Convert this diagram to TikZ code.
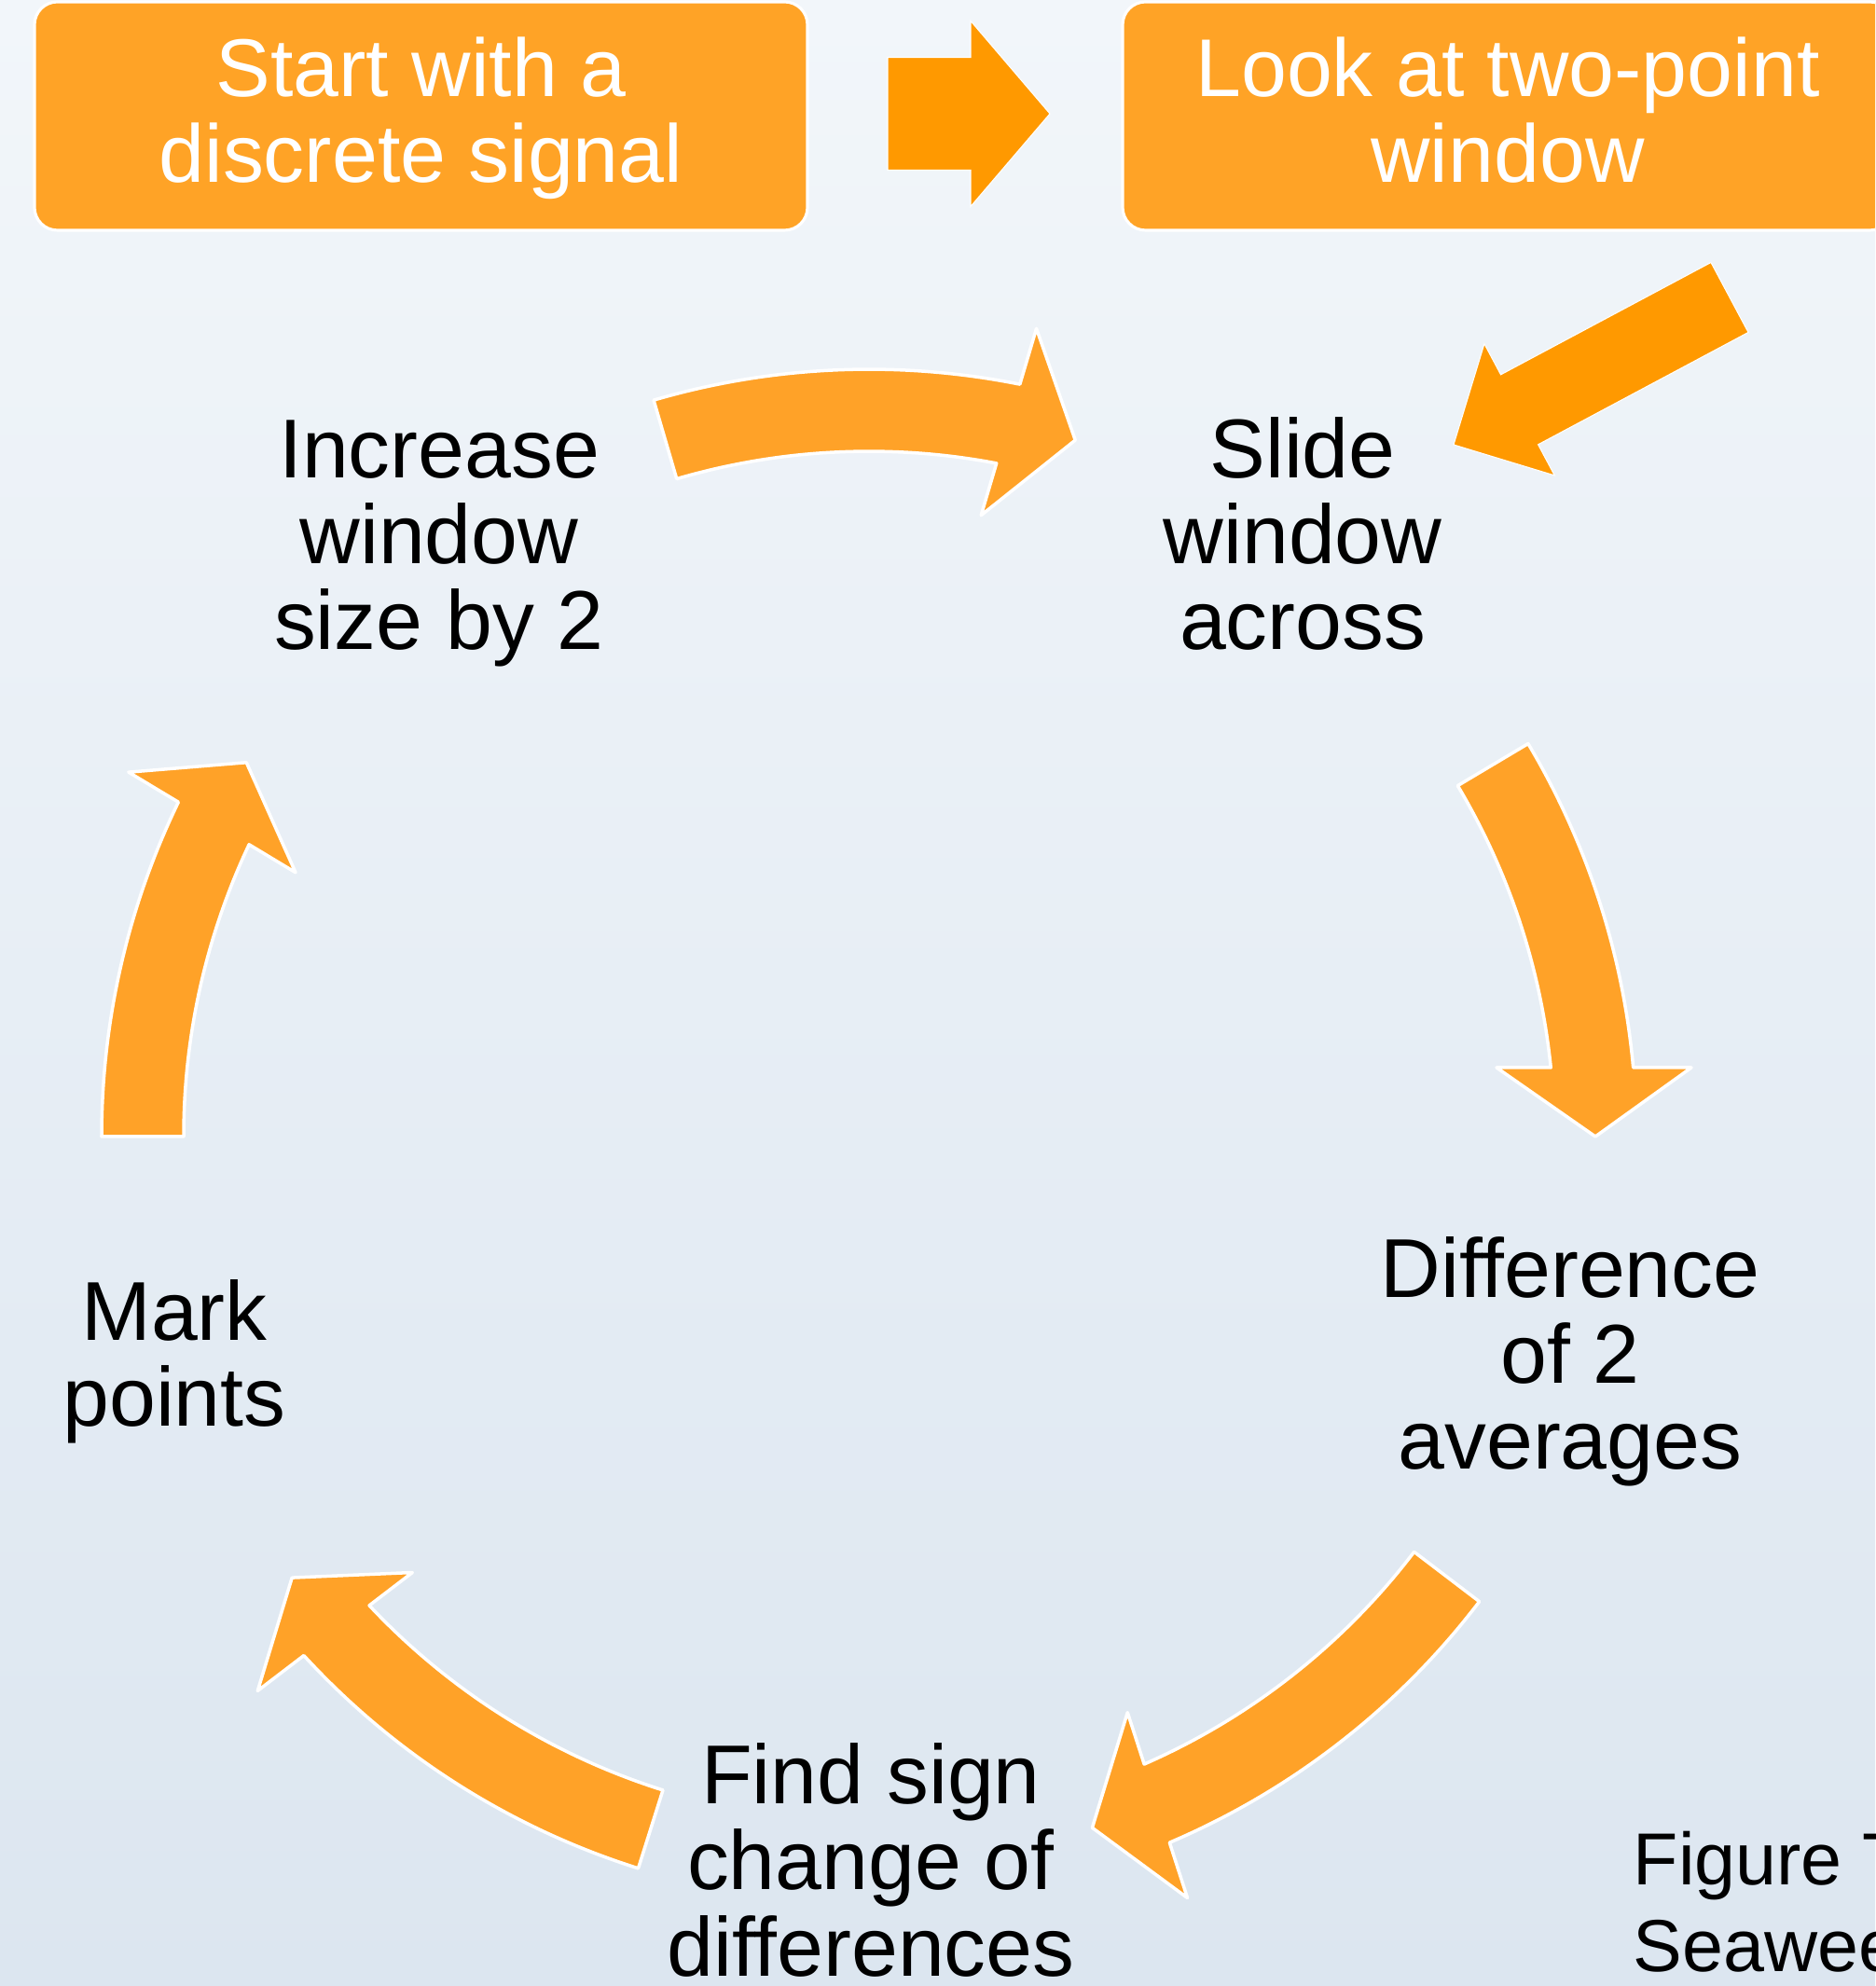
\documentclass[tikz,border=0pt]{standalone}
\usepackage{fontspec}
\setmainfont{Liberation Sans}
\usetikzlibrary{calc}

\definecolor{boxorange}{HTML}{FFA326}
\definecolor{ringorange}{HTML}{FFA228}
\definecolor{linkorange}{HTML}{FF9900}
\definecolor{bgtop}{HTML}{F2F6FA}
\definecolor{bgbottom}{HTML}{DCE6F0}

\tikzset{
  stepbox/.style={draw=white, line width=0.9pt, fill=boxorange, rounded corners=0.245cm,
    minimum width=8.29cm, minimum height=2.45cm, inner sep=0pt, text depth=0.13cm,
    text=white, align=center, font=\fontsize{25}{26.1}\selectfont},
  steplabel/.style={inner sep=0pt, align=center, anchor=base, font=\fontsize{25.5}{26.3}\selectfont},
  ringarrow/.style={fill=ringorange, draw=white, line width=1pt, line join=round},
  linkarrow/.style={fill=linkorange, draw=white, line width=0.3pt},
}

% straight block arrow from #1 to #2 (half shaft #3, half head #4, head length #5)
\newcommand{\fatarrow}[5]{%
  \coordinate (fa-h) at ($(#2)!#5!(#1)$);
  \filldraw[linkarrow] ($(#1)!#3!90:(#2)$) -- ($(fa-h)!#3!90:(#2)$) -- ($(fa-h)!#4!90:(#2)$)
    -- (#2) -- ($(fa-h)!#4!-90:(#2)$) -- ($(fa-h)!#3!-90:(#2)$) -- ($(#1)!#3!-90:(#2)$) -- cycle;}

% loop arrow round (hub): tip at angle #1, tail #2 degrees further back
\newcommand{\ringarrow}[2]{%
  \begin{scope}[shift={(hub)}, rotate=#1]
    \filldraw[ringarrow] (#2:7.35) arc[start angle=#2, end angle=5.78, radius=7.35]
      -- (6.73,0.74) -- (7.79,0) -- (8.82,0.74) -- (5.16:8.23)
      arc[start angle=5.16, end angle=#2, radius=8.23] -- cycle;
  \end{scope}}

\begin{document}
\begin{tikzpicture}
  % page and background
  \clip (0,0) rectangle (20.11,21.30);
  \shade[top color=bgtop, bottom color=bgbottom] (0,0) rectangle (20.11,21.30);

  % the two starting boxes
  \node[stepbox] (start) at (4.515,20.055) {Start with a\\discrete signal};
  \node[stepbox, minimum width=8.26cm] (look) at (16.17,20.055) {Look at two-point\\window};

  % steps round the loop (placed by the last baseline)
  \node[steplabel] (slide) at (13.97,14.33) {Slide\\window\\across};
  \node[steplabel] (diff) at (16.84,5.54) {Difference\\of 2\\averages};
  \node[steplabel] (find) at (9.34,0.11) {Find sign\\change of\\differences};
  \node[steplabel] (mark) at (1.87,6.00) {Mark\\points};
  \node[steplabel] (grow) at (4.71,14.33) {Increase\\window\\size by 2};

  % caption at the corner
  \node[inner sep=0pt, align=left, anchor=base west, font=\fontsize{22.5}{26.6}\selectfont]
    (caption) at (17.51,0.15) {Figure T\\Seawee};

  % start -> look, look -> slide
  \coordinate (startgo) at (9.52,20.08);
  \coordinate (lookin) at (11.26,20.08);
  \fatarrow{startgo}{lookin}{0.605cm}{0.995cm}{0.85cm}
  \coordinate (lookgo) at (18.55,18.11);
  \coordinate (slidein) at (15.59,16.53);
  \fatarrow{lookgo}{slidein}{0.425cm}{0.80cm}{0.80cm}

  % loop arrows round the hub
  \coordinate (hub) at (9.32,9.11);
  \ringarrow{73.5}{32.8}   % grow -> slide
  \ringarrow{0}{30.8}      % slide -> diff
  \ringarrow{-72.1}{34.8}  % diff -> find
  \ringarrow{-142.6}{35.1} % find -> mark
  \ringarrow{149}{31}      % mark -> grow
\end{tikzpicture}
\end{document}
